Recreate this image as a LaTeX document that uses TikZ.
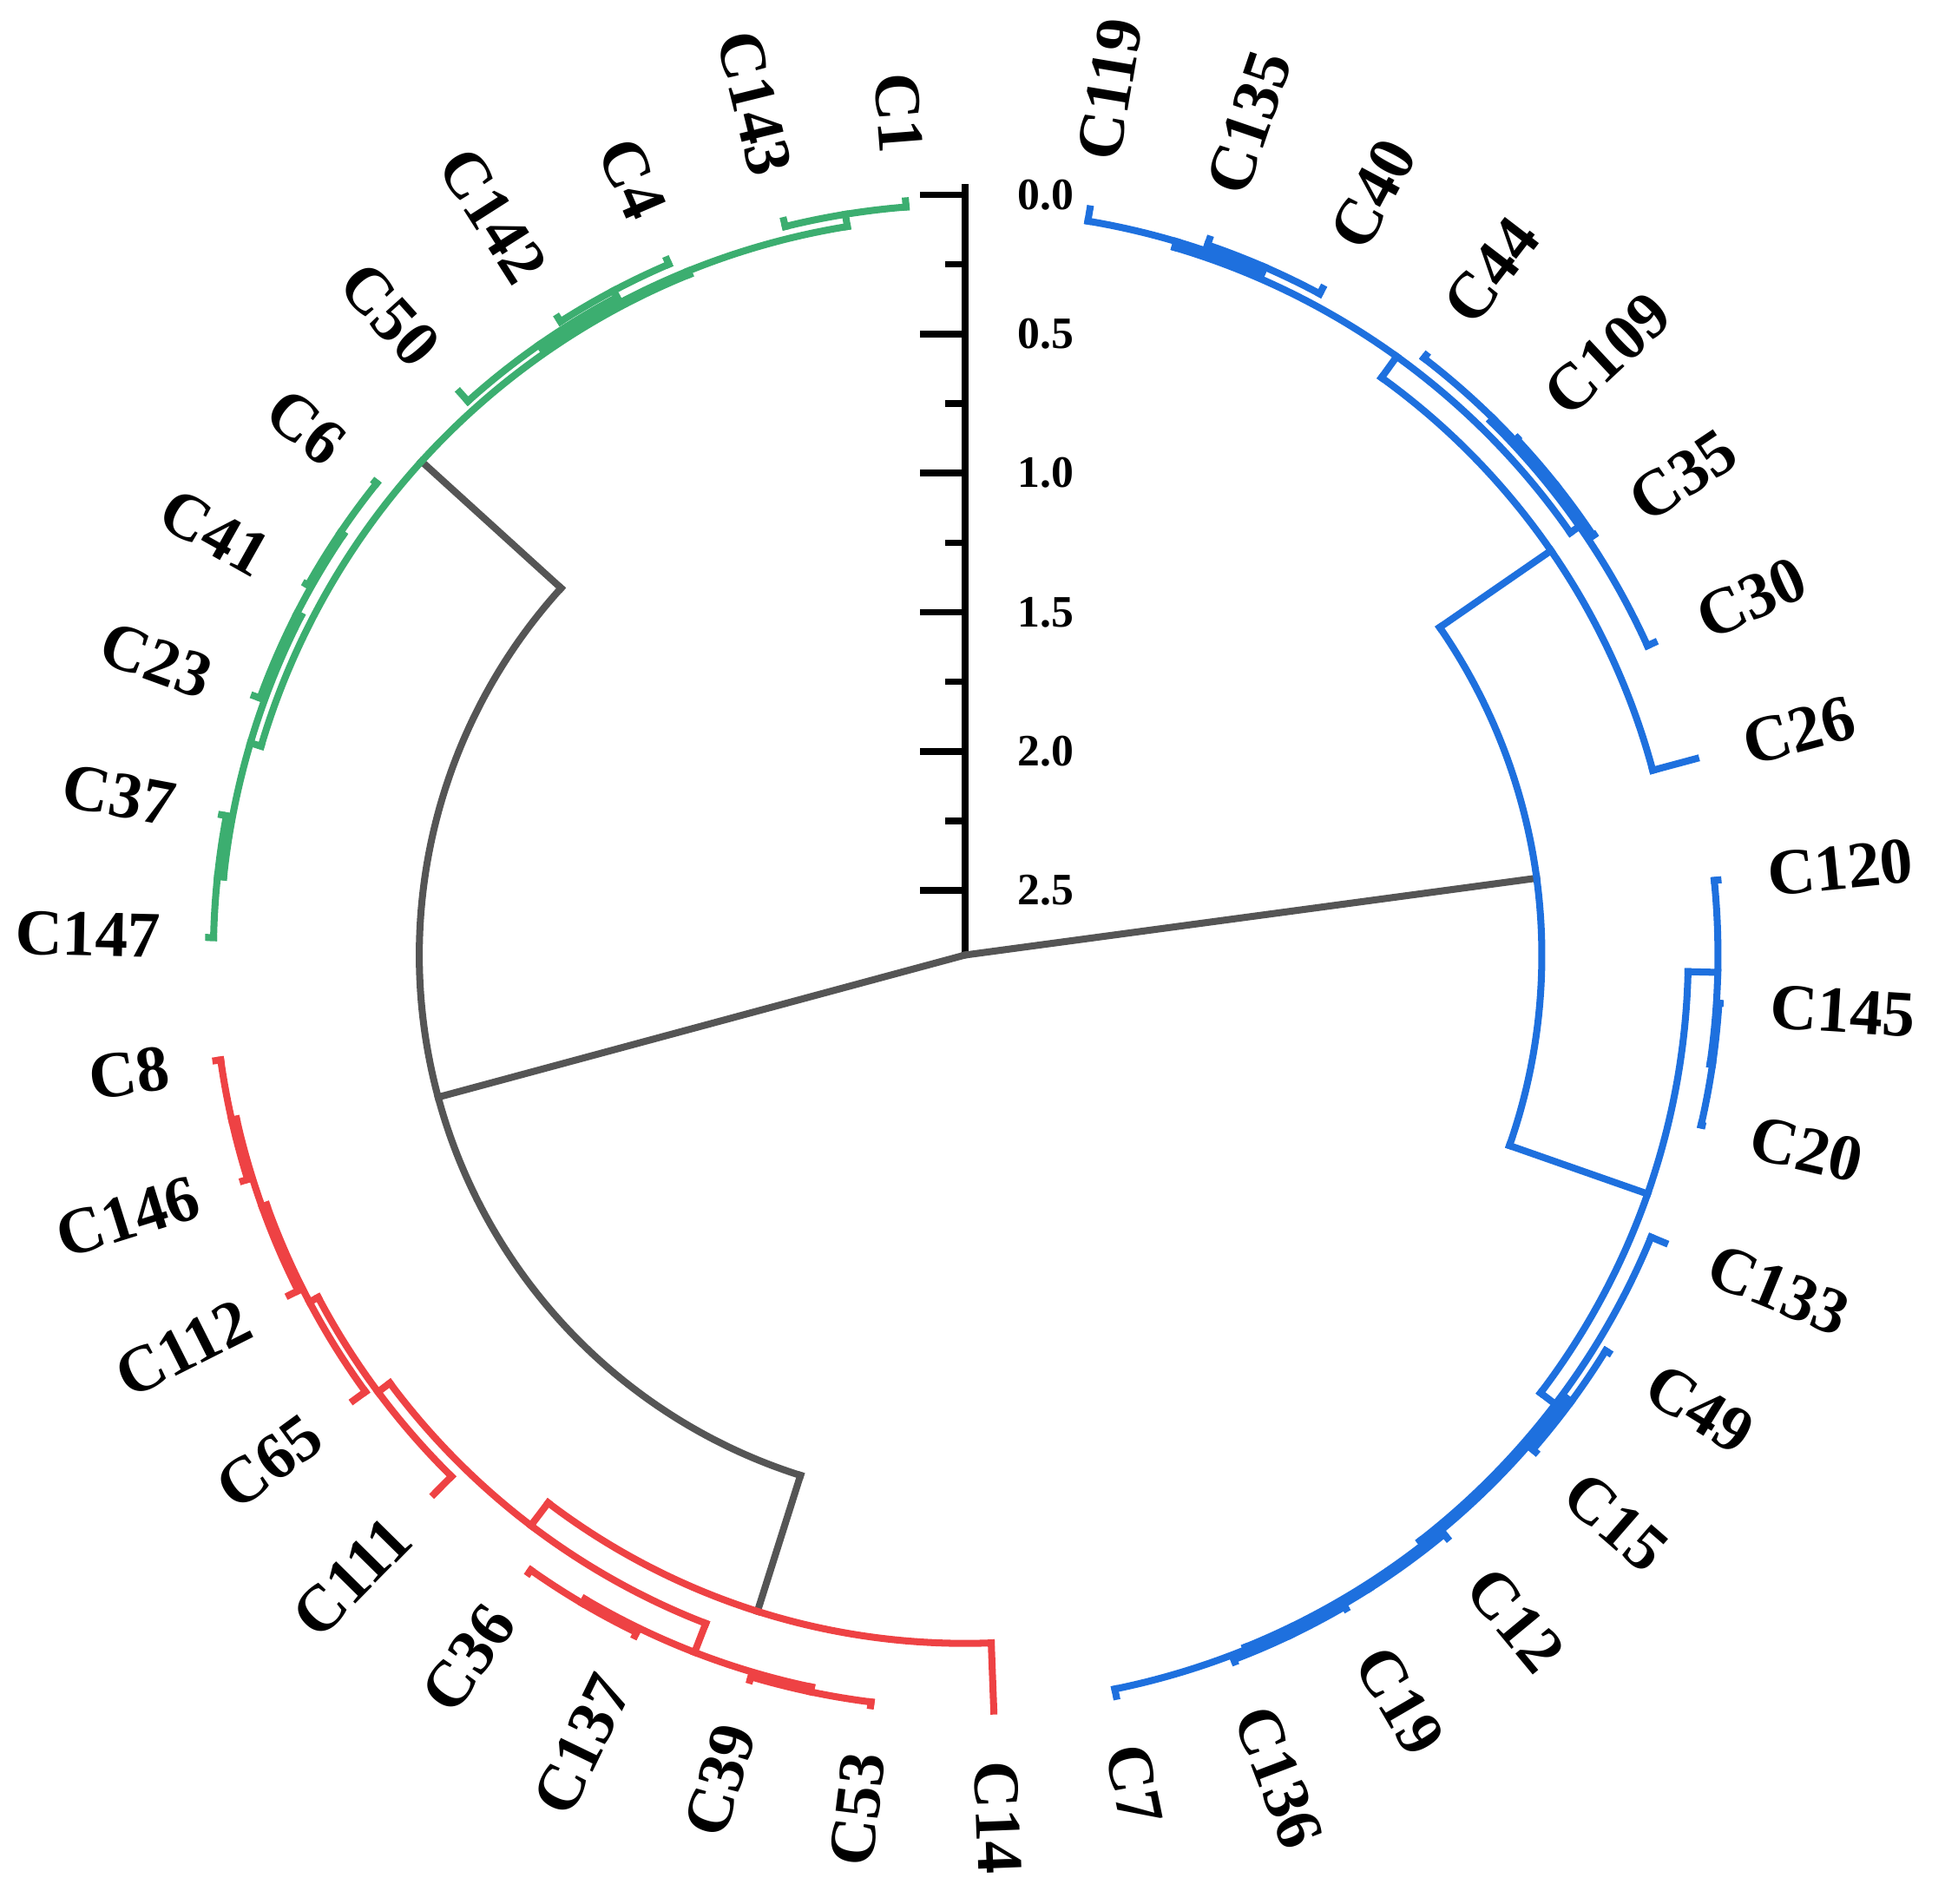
\documentclass[tikz,border=0pt]{standalone}
\usepackage{fontspec}
\setmainfont{Liberation Serif}
\definecolor{cblue}{RGB}{30,112,222}
\definecolor{cred}{RGB}{238,66,68}
\definecolor{cgreen}{RGB}{60,174,112}
\definecolor{cgray}{RGB}{85,85,85}
\tikzset{
	br/.style={line width=1.6pt, line cap=rect},
	lab/.style={font=\fontsize{15}{15}\selectfont\bfseries, inner sep=0pt},
	tk/.style={font=\fontsize{10.3}{10.3}\selectfont\bfseries, inner sep=0pt}
}
\newcommand{\tipr}{6.10}
% radial piece at bearing #1 from radius #2 to #3
\newcommand{\spoke}[3]{\draw ({90-#1}:#2) -- ({90-#1}:#3);}
% arc at radius #1 from bearing #2 to #3
\newcommand{\arcat}[3]{\draw ({90-#2}:#1) arc[start angle={90-#2}, end angle={90-#3}, radius=#1];}

\begin{document}
\begin{tikzpicture}
    \useasboundingbox (-7.78,-7.65) rectangle (7.90,7.70);

    % height axis
    \draw[line width=1.5pt] (0,0) -- (0,6.22);
    \foreach \h/\t [count=\k] in {0/0.0,0.5/0.5,1/1.0,1.5/1.5,2/2.0,2.5/2.5} {
        \draw[line width=1.5pt] (-0.36,{6.13-2.244*\h}) -- (0,{6.13-2.244*\h});
        \node[tk] (tick\k) at (0.65,{6.13-2.244*\h}) {\t};
    }
    \foreach \h in {0.25,0.75,1.25,1.75,2.25}
        \draw[line width=1.5pt] (-0.16,{6.13-2.244*\h}) -- (0,{6.13-2.244*\h});

    % root and top splits
    \begin{scope}[br, cgray]
        \spoke{82.34}{0}{4.65}
        \spoke{254.90}{0}{4.40}
        \arcat{4.40}{197.55}{312.25}
        \spoke{197.55}{4.40}{5.55}
        \spoke{312.25}{4.40}{5.92}
    \end{scope}

    % blue cluster
    \begin{scope}[br, cblue]
        \arcat{4.65}{55.38}{109.29}
        \spoke{55.38}{4.65}{5.74} \arcat{5.74}{35.80}{74.96}
        \spoke{74.96}{5.74}{\tipr}
        \spoke{35.80}{5.74}{5.95} \arcat{5.95}{16.51}{55.09}
        \spoke{16.51}{5.95}{6.00} \arcat{6.00}{9.50}{23.53}
        \spoke{9.50}{6.00}{\tipr}
        \spoke{23.53}{6.00}{6.05} \arcat{6.05}{18.85}{28.20}
        \spoke{18.85}{6.05}{\tipr} \spoke{28.20}{6.05}{\tipr}
        \spoke{55.09}{5.95}{6.04} \arcat{6.04}{44.57}{65.61}
        \spoke{65.61}{6.04}{\tipr}
        \spoke{44.57}{6.04}{6.07} \arcat{6.07}{37.55}{51.58}
        \spoke{37.55}{6.07}{\tipr}
        \spoke{51.58}{6.07}{6.09} \arcat{6.09}{46.90}{56.26}
        \spoke{46.90}{6.09}{\tipr} \spoke{56.26}{6.09}{\tipr}

        \spoke{109.29}{4.65}{5.83} \arcat{5.83}{91.32}{127.27}
        \spoke{91.32}{5.83}{6.07} \arcat{6.07}{84.31}{98.34}
        \spoke{84.31}{6.07}{\tipr}
        \spoke{98.34}{6.07}{6.09} \arcat{6.09}{93.66}{103.01}
        \spoke{93.66}{6.09}{\tipr} \spoke{103.01}{6.09}{\tipr}
        \spoke{127.27}{5.83}{5.98} \arcat{5.98}{112.36}{142.17}
        \spoke{112.36}{5.98}{\tipr}
        \spoke{142.17}{5.98}{6.02} \arcat{6.02}{126.39}{157.95}
        \spoke{126.39}{6.02}{6.07} \arcat{6.07}{121.71}{131.06}
        \spoke{121.71}{6.07}{\tipr} \spoke{131.06}{6.07}{\tipr}
        \spoke{157.95}{6.02}{6.04} \arcat{6.04}{147.43}{168.47}
        \spoke{168.47}{6.04}{\tipr}
        \spoke{147.43}{6.04}{6.06} \arcat{6.06}{140.41}{154.45}
        \spoke{140.41}{6.06}{\tipr}
        \spoke{154.45}{6.06}{6.08} \arcat{6.08}{149.77}{159.12}
        \spoke{149.77}{6.08}{\tipr} \spoke{159.12}{6.08}{\tipr}
    \end{scope}

    % red cluster
    \begin{scope}[br, cred]
        \arcat{5.55}{177.82}{217.27}
        \spoke{177.82}{5.55}{\tipr}
        \spoke{217.27}{5.55}{5.78} \arcat{5.78}{201.20}{233.34}
        \spoke{201.20}{5.78}{6.03} \arcat{6.03}{191.85}{210.55}
        \spoke{191.85}{6.03}{6.07} \arcat{6.07}{187.17}{196.52}
        \spoke{187.17}{6.07}{\tipr} \spoke{196.52}{6.07}{\tipr}
        \spoke{210.55}{6.03}{6.07} \arcat{6.07}{205.87}{215.22}
        \spoke{205.87}{6.07}{\tipr} \spoke{215.22}{6.07}{\tipr}
        \spoke{233.34}{5.78}{5.90} \arcat{5.90}{224.57}{242.11}
        \spoke{224.57}{5.90}{\tipr}
        \spoke{242.11}{5.90}{5.98} \arcat{5.98}{233.93}{250.30}
        \spoke{233.93}{5.98}{\tipr}
        \spoke{250.30}{5.98}{6.02} \arcat{6.02}{243.28}{257.31}
        \spoke{243.28}{6.02}{\tipr}
        \spoke{257.31}{6.02}{6.06} \arcat{6.06}{252.63}{261.98}
        \spoke{252.63}{6.06}{\tipr} \spoke{261.98}{6.06}{\tipr}
    \end{scope}

    % green cluster
    \begin{scope}[br, cgreen]
        \arcat{5.92}{286.53}{337.96}
        \spoke{286.53}{5.92}{6.01} \arcat{6.01}{276.01}{297.04}
        \spoke{276.01}{6.01}{6.06} \arcat{6.06}{271.33}{280.68}
        \spoke{271.33}{6.06}{\tipr} \spoke{280.68}{6.06}{\tipr}
        \spoke{297.04}{6.01}{6.05} \arcat{6.05}{290.03}{304.06}
        \spoke{290.03}{6.05}{\tipr}
        \spoke{304.06}{6.05}{6.08} \arcat{6.08}{299.38}{308.73}
        \spoke{299.38}{6.08}{\tipr} \spoke{308.73}{6.08}{\tipr}
        \spoke{337.96}{5.92}{5.95} \arcat{5.95}{325.10}{350.82}
        \spoke{325.10}{5.95}{6.00} \arcat{6.00}{318.09}{332.12}
        \spoke{318.09}{6.00}{\tipr}
        \spoke{332.12}{6.00}{6.06} \arcat{6.06}{327.44}{336.79}
        \spoke{327.44}{6.06}{\tipr} \spoke{336.79}{6.06}{\tipr}
        \spoke{350.82}{5.95}{6.05} \arcat{6.05}{346.14}{355.49}
        \spoke{346.14}{6.05}{\tipr} \spoke{355.49}{6.05}{\tipr}
    \end{scope}

    % leaf labels
    \foreach \lab [count=\i from 0] in {C119,C135,C40,C44,C109,C35,C30,C26,C120,C145,C20,C133,C49,C15,C12,C19,C136,C7,C14,C53,C39,C137,C36,C111,C65,C112,C146,C8,C147,C37,C23,C41,C6,C50,C142,C4,C143,C1} {
        \pgfmathsetmacro{\b}{9.5+9.351*\i}
        \ifdim\b pt<180pt
            \node[lab, anchor=west, rotate={90-\b}] (\lab) at ({90-\b}:6.50) {\lab};
        \else
            \node[lab, anchor=east, rotate={270-\b}] (\lab) at ({90-\b}:6.48) {\lab};
        \fi
    }
\end{tikzpicture}
\end{document}
